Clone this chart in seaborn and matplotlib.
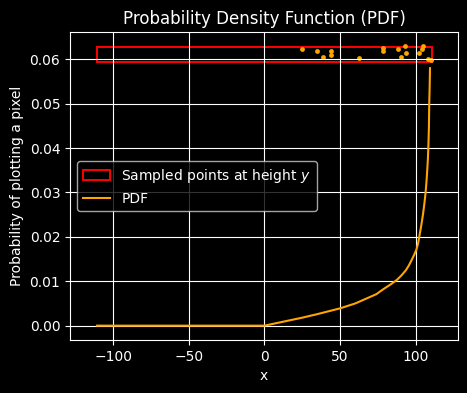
import pandas as pd
import numpy as np
import seaborn as sns
import matplotlib.pyplot as plt
from matplotlib.patches import Rectangle

# PDF curve
pdf_x = [-110.6, 0, 12.5, 25, 35, 50, 60, 68, 74, 78.5, 83, 87.5, 90.5, 93.5,
         95.5, 97.3, 99, 100.5, 101.5, 102.3, 103.6, 104.75, 105.7, 106.5, 107.1,
         107.6, 108, 108.3, 108.7, 108.9, 109.2, 109.4]
pdf_y = [0, 0, 0.0009, 0.0018, 0.0026, 0.0039, 0.0050, 0.0062, 0.0071, 0.0082,
         0.0092, 0.0103, 0.0113, 0.0125, 0.0136, 0.0148, 0.0160, 0.0172, 0.0185,
         0.0200, 0.0225, 0.0250, 0.0275, 0.0300, 0.0325, 0.0351, 0.0375, 0.0400,
         0.0448, 0.0500, 0.0540, 0.0580]

# sampled points at height y
pts_x = [25.1, 35.0, 38.9, 44.2, 44.2, 62.7, 78.5, 78.5, 88.4, 93.1, 93.7,
         90.4, 104.9, 103.8, 102.4, 108.3, 109.8]
pts_y = [0.06225, 0.06182, 0.06045, 0.06176, 0.06097, 0.06023, 0.06255, 0.06176,
         0.06225, 0.06300, 0.06135, 0.06047, 0.06295, 0.06232, 0.06153, 0.06002,
         0.05977]

# band that the points were sampled in
band_x = [-110.6, 110.7]
band_y = [0.05944, 0.06282]

pdf = pd.DataFrame({"x": pdf_x, "p": pdf_y})
pts = pd.DataFrame({"x": pts_x, "p": pts_y})

plt.style.use("dark_background")
fig = plt.figure(figsize=(4.67, 3.93), dpi=100)
ax = fig.add_axes([0.150, 0.135, 0.831, 0.783])

rect = Rectangle((band_x[0], band_y[0]), band_x[1] - band_x[0], band_y[1] - band_y[0],
                 fill=False, edgecolor="red", linewidth=1.4,
                 label="Sampled points at height $y$")
ax.add_patch(rect)

sns.scatterplot(data=pts, x="x", y="p", color="orange", s=12, linewidth=0, ax=ax)
sns.lineplot(data=pdf, x="x", y="p", color="orange", label="PDF",
             sort=False, estimator=None, ax=ax)

ax.set_xlim(-128.5, 128)
ax.set_ylim(-0.00322, 0.0661)
ax.set_title("Probability Density Function (PDF)")
ax.set_xlabel("x")
ax.set_ylabel("Probability of plotting a pixel")
ax.grid(True)
ax.legend(loc="center left")

plt.savefig("out.png", dpi=100)
